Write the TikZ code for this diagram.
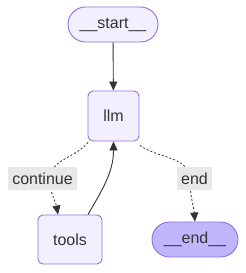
\documentclass[tikz,border=0pt]{standalone}
\usepackage{fontspec}
\setmainfont{Liberation Sans}
\usetikzlibrary{arrows.meta}
\definecolor{nodefill}{HTML}{F2F0FF}
\definecolor{nodestroke}{HTML}{9370DB}
\definecolor{endfill}{HTML}{BFB6FC}
\definecolor{edgecol}{HTML}{333333}
\definecolor{lblfill}{HTML}{E8E8E8}
\definecolor{txt}{HTML}{333333}
\tikzset{
  base/.style={draw=nodestroke, line width=0.9pt, text=txt, font=\fontsize{16}{19}\selectfont, inner sep=0pt},
  pill/.style={base, fill=nodefill, rounded corners=17.5pt, minimum height=35pt},
  endpill/.style={base, fill=endfill, rounded corners=17.5pt, minimum height=35pt},
  boxnode/.style={base, fill=nodefill, rounded corners=5pt},
  lbl/.style={fill=lblfill, text=txt, font=\fontsize{16}{19}\selectfont, inner sep=0pt, minimum height=23pt},
  edge/.style={draw=edgecol, line width=0.9pt, -{Triangle[length=9pt,width=8pt]}},
  dotedge/.style={edge, line width=0.8pt, dash pattern=on 2pt off 2pt}
}
\begin{document}
\begin{tikzpicture}[x=1pt,y=-1pt]
\useasboundingbox[fill=white] (0,0) rectangle (246,273);
\node[pill, minimum width=90pt] (start) at (113,24.5) {\_\_start\_\_};
\node[boxnode, minimum width=51pt, minimum height=50pt] (llm) at (113.5,116) {llm};
\node[boxnode, minimum width=64pt, minimum height=49pt] (tools) at (70,239.5) {tools};
\node[endpill, minimum width=86pt] (end) at (195,239.5) {\_\_end\_\_};
\coordinate (c1) at (50,180);
\coordinate (e1) at (190,180);
\draw[edge] (start) -- (llm);
\draw[dotedge] ([shift={(0.5pt,-1pt)}]llm.south west) to[out=-130,in=90] (c1) to[out=-90,in=100] ([xshift=-12pt]tools.north);
\draw[dotedge] ([shift={(0.5pt,-4pt)}]llm.south east) to[out=-35,in=90] (e1) to[out=-90,in=95] (end.north);
\draw[edge] ([xshift=18pt]tools.north) to[out=60,in=-90] (llm.south);
\node[lbl, minimum width=69pt] (cont) at (42.5,178.5) {continue};
\node[lbl, minimum width=35pt] (endl) at (194.5,178.5) {end};
\end{tikzpicture}
\end{document}
